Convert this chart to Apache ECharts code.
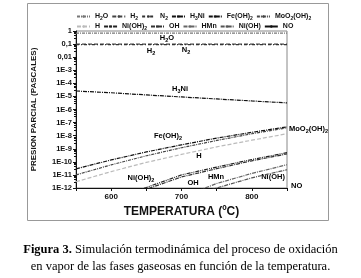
<!DOCTYPE html>
<html>
<head>
<meta charset="utf-8">
<script src="https://cdn.jsdelivr.net/npm/echarts@6/dist/echarts.min.js"></script>
<style>
    html, body { margin: 0; padding: 0; background: #fff; }
    #chart { width: 361px; height: 278px; }
</style>
</head>
<body>
<div id="chart"></div>
<script>
// temperaturas (ºC)
var temps = [550, 600, 650, 700, 750, 800, 850]
// presiones parciales (Pa)
var h2o = [0.7, 0.7, 0.7, 0.7, 0.7, 0.7, 0.7]
var h2 = [0.1, 0.1, 0.1, 0.1, 0.1, 0.1, 0.1]
var n2 = [0.09, 0.09, 0.09, 0.09, 0.09, 0.09, 0.09]
var h3ni = [2.6e-5, 1.9e-5, 1.3e-5, 9.1e-6, 6.4e-6, 4.5e-6, 3.2e-6]
var feoh2 = [2.9e-11, 1.4e-10, 5.7e-10, 2e-9, 6.5e-9, 1.8e-8, 4.7e-8]
var moo2oh2 = [1e-11, 5.9e-11, 2.9e-10, 1.2e-9, 4.3e-9, 1.4e-8, 4e-8]
var hh = [3e-12, 1.8e-11, 9e-11, 3.7e-10, 1.4e-9, 4.5e-9, 1.4e-8]
var nioh2 = [1.5e-14, 1.5e-13, 1.1e-12, 1e-11, 4e-11, 1.5e-10, 5e-10]
var oh = [1e-14, 1e-13, 8e-13, 7e-12, 3e-11, 1.2e-10, 4e-10]
var hmn = [1e-16, 3e-15, 3e-14, 2e-13, 2.2e-12, 1.3e-11, 6e-11]
var nioh = [3e-17, 1e-15, 1.5e-14, 1.5e-13, 1e-12, 6e-12, 2.5e-11]
var no = [1e-20, 1e-19, 1e-18, 1e-17, 1e-16, 1e-15, 1e-14]
var xLabels = [600, 700, 800]

var font = '"Liberation Sans", Arial, sans-serif'
var richSub = {
    b: { fontSize: 7.5, fontWeight: 'bold', fontFamily: font, color: '#111' },
    s: { fontSize: 5.5, fontWeight: 'bold', fontFamily: font, color: '#111', padding: [4, 0, 0, 0] }
}
var richLeg = {
    b: { fontSize: 7, fontWeight: 'bold', fontFamily: font, color: '#111' },
    s: { fontSize: 5, fontWeight: 'bold', fontFamily: font, color: '#111', padding: [4, 0, 0, 0] }
}
var rich = {
    'H2O': '{b|H}{s|2}{b|O}',
    'H2': '{b|H}{s|2}',
    'N2': '{b|N}{s|2}',
    'H3Ni': '{b|H}{s|3}{b|Ni}',
    'Fe(OH)2': '{b|Fe(OH)}{s|2}',
    'MoO2(OH)2': '{b|MoO}{s|2}{b|(OH)}{s|2}',
    'H': '{b|H}',
    'Ni(OH)2': '{b|Ni(OH)}{s|2}',
    'OH': '{b|OH}',
    'HMn': '{b|HMn}',
    'Ni(OH)': '{b|Ni(OH)}',
    'NO': '{b|NO}'
}

function mk(name, data, color, type) {
    return {
        name: name,
        type: 'line',
        data: data.map(function(v, i) { return [temps[i], v] }),
        symbol: 'none',
        lineStyle: { color: color, width: 1.2, type: type },
        itemStyle: { color: color },
        clip: true,
        animation: false
    }
}

var series = [
    mk('H2O', h2o, '#777', [3, 1, 1, 1]),
    mk('H2', h2, '#444', [4, 2]),
    mk('N2', n2, '#333', [3, 2, 1, 2]),
    mk('H3Ni', h3ni, '#111', [4, 1, 1, 1]),
    mk('Fe(OH)2', feoh2, '#111', [4, 1, 1, 1]),
    mk('MoO2(OH)2', moo2oh2, '#444', [3, 1, 1, 1]),
    mk('H', hh, '#bbb', [4, 2]),
    mk('Ni(OH)2', nioh2, '#222', [4, 1, 1, 1, 1, 1]),
    mk('OH', oh, '#333', [4, 1, 1, 1]),
    mk('HMn', hmn, '#666', [4, 1, 1, 1]),
    mk('Ni(OH)', nioh, '#555', [4, 1, 1, 1]),
    mk('NO', no, '#111', 'solid')
]

function lab(key, x, y, align) {
    return {
        type: 'text', x: x, y: y,
        style: { text: rich[key], rich: richSub, align: align || 'center', verticalAlign: 'middle' }
    }
}

function legendRow(top, names) {
    return {
        top: top,
        left: 71,
        itemWidth: 13,
        itemHeight: 3,
        itemGap: 3,
        data: names,
        itemStyle: { borderWidth: 0 },
        formatter: function(n) { return rich[n] },
        textStyle: { rich: richLeg }
    }
}

var option = {
    animation: false,
    legend: [
        legendRow(8, ['H2O', 'H2', 'N2', 'H3Ni', 'Fe(OH)2', 'MoO2(OH)2']),
        legendRow(18, ['H', 'Ni(OH)2', 'OH', 'HMn', 'Ni(OH)', 'NO'])
    ],
    grid: { left: 76, right: 74, top: 31, bottom: 90, show: true, borderColor: '#888', borderWidth: 1 },
    xAxis: {
        type: 'value',
        min: 550,
        max: 850,
        interval: 50,
        name: 'TEMPERATURA (ºC)',
        nameLocation: 'middle',
        nameGap: 17,
        nameTextStyle: { fontFamily: font, fontWeight: 'bold', fontSize: 12, color: '#111' },
        axisLine: { lineStyle: { color: '#111' } },
        axisTick: { length: 3, lineStyle: { color: '#111' } },
        axisLabel: {
            margin: 5,
            fontFamily: font, fontWeight: 'bold', fontSize: 8, color: '#111',
            formatter: function(v) { return xLabels.indexOf(v) >= 0 ? String(v) : '' }
        },
        splitLine: { show: false }
    },
    yAxis: {
        type: 'log',
        logBase: 10,
        min: 1e-12,
        max: 1,
        interval: 1,
        name: 'PRESION PARCIAL (PASCALES)',
        nameLocation: 'middle',
        nameGap: 38,
        nameTextStyle: { fontFamily: font, fontWeight: 'bold', fontSize: 8, color: '#111' },
        axisLine: { show: true, lineStyle: { color: '#111' } },
        axisTick: { show: true, length: 3, lineStyle: { color: '#111' } },
        minorTick: { show: true, splitNumber: 5, length: 2, lineStyle: { color: '#111' } },
        axisLabel: {
            margin: 4,
            interval: 0,
            showMinLabel: true,
            showMaxLabel: true,
            hideOverlap: false,
            fontFamily: font, fontWeight: 'bold', fontSize: 7.5, color: '#111',
            formatter: function(v) {
                var e = Math.round(Math.log10(v))
                if (e === 0) return '1'
                if (e === -1) return '0,1'
                if (e === -2) return '0,01'
                return '1E' + e
            }
        },
        splitLine: { show: false }
    },
    graphic: [
        { type: 'rect', shape: { x: 27.5, y: 3.5, width: 301, height: 217 }, style: { fill: 'none', stroke: '#999', lineWidth: 1 }, silent: true },
        lab('H2O', 167, 38),
        lab('H2', 151, 51),
        lab('N2', 186, 50),
        lab('H3Ni', 180, 89),
        lab('Fe(OH)2', 168, 136),
        lab('MoO2(OH)2', 289, 129, 'left'),
        lab('H', 199, 156),
        lab('Ni(OH)2', 141, 178),
        lab('OH', 193, 183),
        lab('HMn', 216, 177),
        lab('Ni(OH)', 273, 177),
        lab('NO', 291, 186, 'left'),
        {
            type: 'text', x: 180.5, y: 241,
            style: {
                text: '{f|Figura 3.}{t| Simulación termodinámica del proceso de oxidación}\n{t|en vapor de las fases gaseosas en función de la temperatura.}',
                align: 'center',
                rich: {
                    f: { fontFamily: '"Liberation Serif", "Times New Roman", serif', fontWeight: 'bold', fontSize: 12.5, color: '#111', lineHeight: 17 },
                    t: { fontFamily: '"Liberation Serif", "Times New Roman", serif', fontSize: 12.5, color: '#111', lineHeight: 17 }
                }
            }
        }
    ],
    series: series
}

var myChart = echarts.init(document.getElementById('chart'))
myChart.setOption(option)
window.addEventListener('resize', function() {
    myChart.resize()
})
</script>
</body>
</html>
